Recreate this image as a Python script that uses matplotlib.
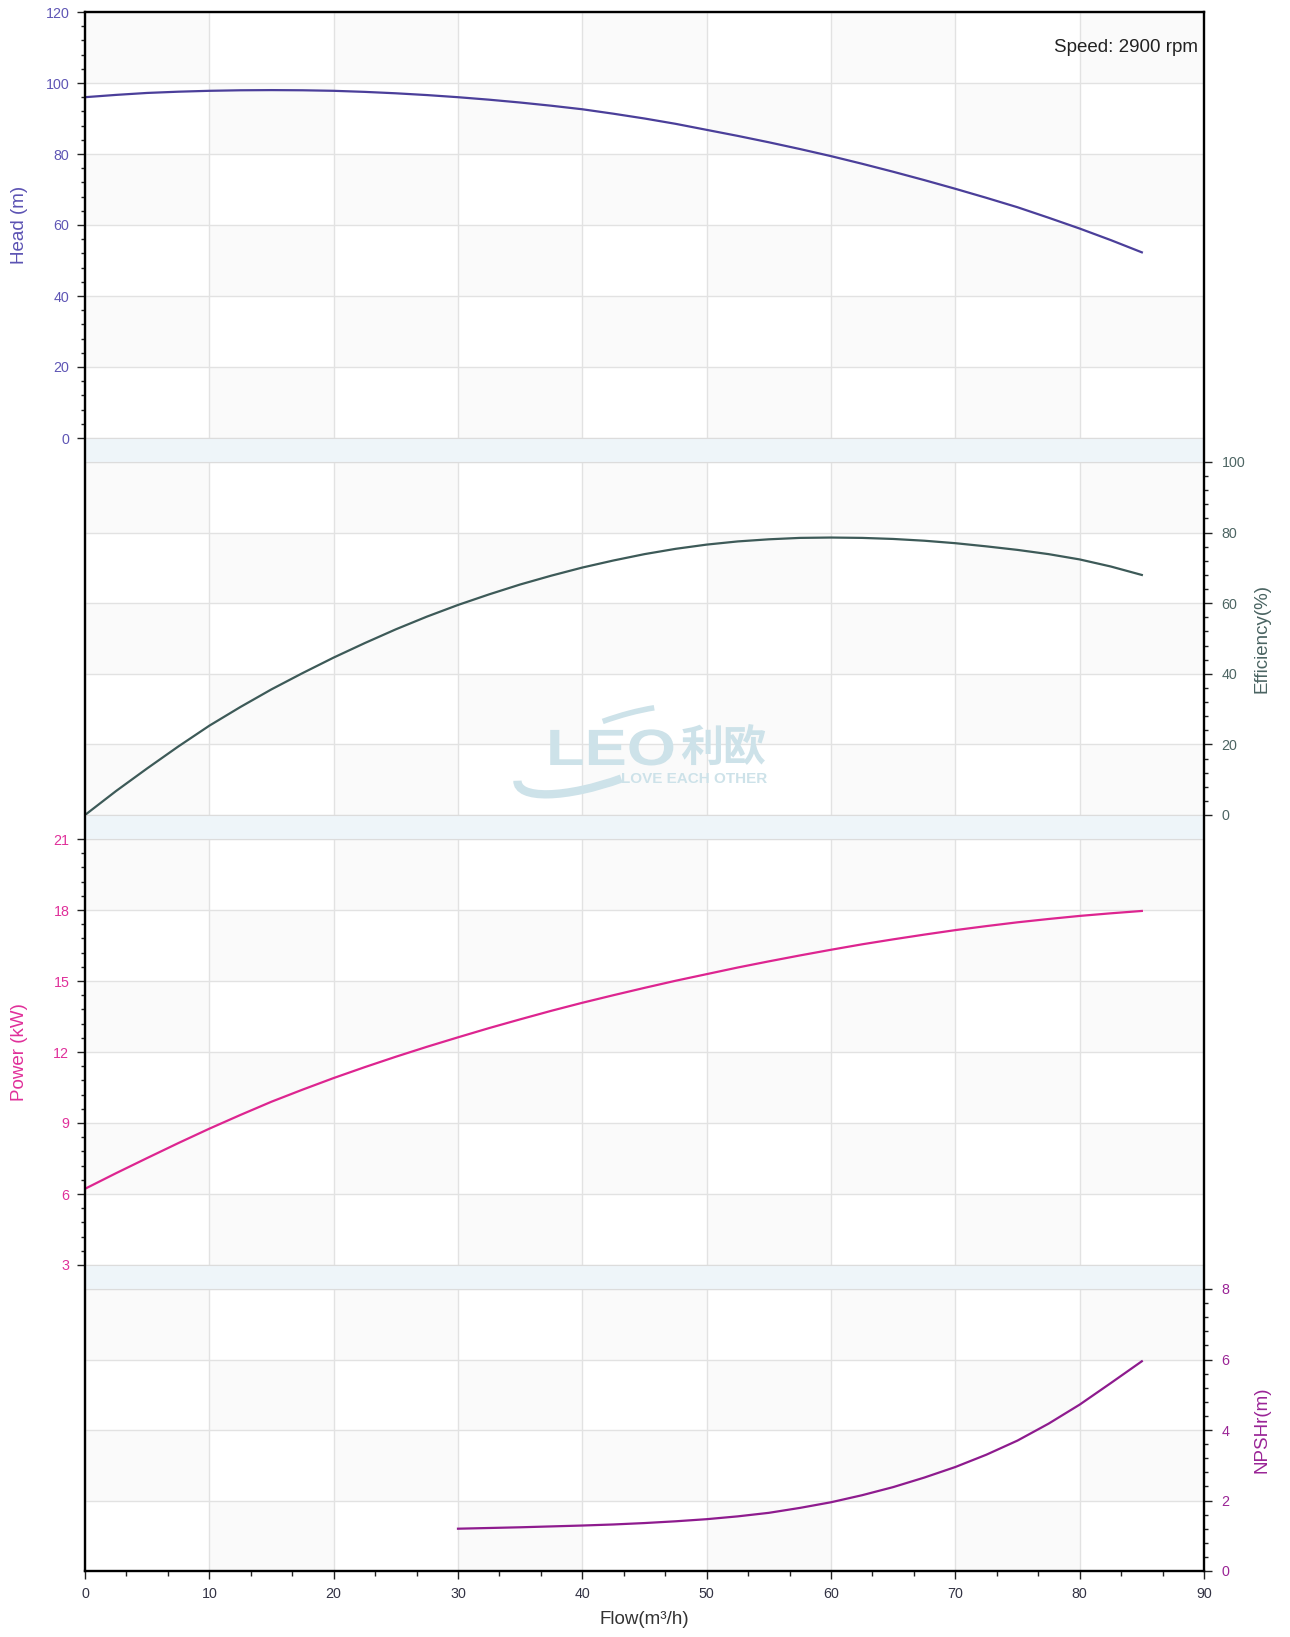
# -*- coding: utf-8 -*- python3
""" Pump performance curves: head, efficiency, power and NPSHr against flow """
import numpy as np
import matplotlib
matplotlib.use('Agg')
import matplotlib.pyplot as plt
from matplotlib.patches import Rectangle, Arc, PathPatch
from matplotlib.ticker import MultipleLocator
from matplotlib.textpath import TextPath
from matplotlib.font_manager import FontProperties
from matplotlib.transforms import Affine2D

plt.rcParams['font.family'] = ['Liberation Sans', 'DejaVu Sans']

W, H = 1290, 1637  # output size in pixels

# curve data
flow = [0, 2.5, 5, 7.5, 10, 12.5, 15, 17.5, 20, 22.5, 25, 27.5, 30, 32.5, 35, 37.5,
        40, 42.5, 45, 47.5, 50, 52.5, 55, 57.5, 60, 62.5, 65, 67.5, 70, 72.5, 75,
        77.5, 80, 82.5, 85]
head = [96.0, 96.65, 97.2, 97.55, 97.8, 97.95, 98.0, 97.95, 97.8, 97.5, 97.1, 96.6,
        96.0, 95.3, 94.5, 93.6, 92.6, 91.35, 90.0, 88.5, 86.8, 85.1, 83.3, 81.4,
        79.4, 77.25, 75.0, 72.65, 70.2, 67.65, 65.0, 62.05, 59.0, 55.75, 52.3]
efficiency = [0.0, 6.8, 13.2, 19.4, 25.3, 30.6, 35.6, 40.2, 44.6, 48.7, 52.6, 56.2,
              59.5, 62.5, 65.3, 67.8, 70.1, 72.1, 73.9, 75.4, 76.6, 77.5, 78.1, 78.5,
              78.6, 78.5, 78.2, 77.7, 77.0, 76.1, 75.1, 73.9, 72.4, 70.4, 68.0]
power = [6.22, 6.88, 7.52, 8.15, 8.76, 9.34, 9.9, 10.41, 10.9, 11.36, 11.8, 12.22,
         12.62, 13.01, 13.38, 13.74, 14.08, 14.40, 14.71, 15.01, 15.29, 15.57, 15.83,
         16.08, 16.32, 16.55, 16.76, 16.96, 17.15, 17.32, 17.48, 17.62, 17.75, 17.86,
         17.96]
npsh_flow = [30, 32.5, 35, 37.5, 40, 42.5, 45, 47.5, 50, 52.5, 55, 57.5, 60, 62.5,
             65, 67.5, 70, 72.5, 75, 77.5, 80, 82.5, 85]
npsh = [1.2, 1.22, 1.24, 1.265, 1.29, 1.32, 1.36, 1.41, 1.47, 1.55, 1.65, 1.79,
        1.95, 2.15, 2.38, 2.65, 2.95, 3.3, 3.7, 4.18, 4.72, 5.33, 5.95]

x_ticks = [0, 10, 20, 30, 40, 50, 60, 70, 80, 90]
speed_text = 'Speed: 2900 rpm'

# one dict per stacked panel
panels = [
    dict(top=12, bottom=438, ylim=(0, 120), step=20, side='left',
         tcol='#5f56b5', label='Head (m)', lcol='#5b52b3',
         x=flow, y=head, col='#4b3f9a'),
    dict(top=462, bottom=815, ylim=(0, 100), step=20, side='right',
         tcol='#4d6563', label='Efficiency(%)', lcol='#4a6462',
         x=flow, y=efficiency, col='#3d5a58'),
    dict(top=839, bottom=1265, ylim=(3, 21), step=3, side='left',
         tcol='#e0309a', label='Power (kW)', lcol='#e0309a',
         x=flow, y=power, col='#dd2590'),
    dict(top=1289, bottom=1571, ylim=(0, 8), step=2, side='right',
         tcol='#9a2496', label='NPSHr(m)', lcol='#9a2496',
         x=npsh_flow, y=npsh, col='#8e1b8e'),
]

LEFT, RIGHT = 85, 1204


def px_rect(top, bottom):
    return [LEFT / W, 1 - bottom / H, (RIGHT - LEFT) / W, (bottom - top) / H]


fig = plt.figure(figsize=(W / 100, H / 100), dpi=100)

# background carrying the separator bands
bg = fig.add_axes(px_rect(12, 1571), zorder=0)
bg.set_facecolor('#eef5f9')
bg.set_xticks([])
bg.set_yticks([])
for s in bg.spines.values():
    s.set_visible(False)

for k, p in enumerate(panels):
    ax = fig.add_axes(px_rect(p['top'], p['bottom']), zorder=1)
    lo, hi = p['ylim']
    ax.set_xlim(0, 90)
    ax.set_ylim(lo, hi)
    yt = np.arange(lo, hi + p['step'] / 2, p['step'])
    # checkerboard cells, top-left cell is grey
    rows = list(yt[::-1])
    for i in range(len(x_ticks) - 1):
        for j in range(len(rows) - 1):
            if (i + j) % 2 == 0:
                ax.add_patch(Rectangle((x_ticks[i], rows[j + 1]),
                                       x_ticks[i + 1] - x_ticks[i],
                                       rows[j] - rows[j + 1],
                                       facecolor='#fafafa', edgecolor='none', zorder=0.2))
    ax.set_xticks(x_ticks)
    ax.xaxis.set_minor_locator(MultipleLocator(10 / 3))
    ax.set_yticks(yt)
    ax.yaxis.set_minor_locator(MultipleLocator(p['step'] / 5))
    ax.set_axisbelow(True)
    ax.grid(True, which='major', color='#e2e2e2', lw=1)
    ax.plot(p['x'], p['y'], color=p['col'], lw=1.6, zorder=3)

    if p['side'] == 'left':
        ax.yaxis.tick_left()
        ax.tick_params(axis='y', which='major', pad=5.5)
    else:
        ax.yaxis.tick_right()
        ax.tick_params(axis='y', which='major', pad=6.8)
    ax.tick_params(axis='y', which='major', length=5.8, width=1, color='#222222',
                   labelsize=10.3, labelcolor=p['tcol'])
    ax.tick_params(axis='y', which='minor', length=2.9, width=1, color='#222222')

    if k == len(panels) - 1:
        ax.tick_params(axis='x', which='major', length=5.8, width=1, color='#222222',
                       labelsize=10.3, labelcolor='#333344', pad=6)
        ax.tick_params(axis='x', which='minor', length=3.4, width=1, color='#222222')
    else:
        ax.tick_params(axis='x', which='both', bottom=False, labelbottom=False)

    ax.spines['left'].set_visible(False)
    ax.spines['right'].set_visible(False)
    ax.spines['top'].set_color('#dcdcdc')
    ax.spines['bottom'].set_color('#dcdcdc')

    mid = (p['top'] + p['bottom']) / 2
    lx = 20 if p['side'] == 'left' else 1262
    fig.text(lx / W, 1 - mid / H, p['label'], rotation=90, ha='center', va='center',
             fontsize=13.5, color=p['lcol'])

# outer frame on top
frame = fig.add_axes(px_rect(12, 1571), zorder=5)
frame.set_facecolor('none')
frame.set_xticks([])
frame.set_yticks([])
for s in frame.spines.values():
    s.set_color('black')
    s.set_linewidth(1.7)

fig.text(644 / W, 1 - 1620 / H, 'Flow(m³/h)', ha='center', va='center',
         fontsize=13.5, color='#333333')
fig.text(1198 / W, 1 - 47 / H, speed_text, ha='right', va='center',
         fontsize=13.5, color='#222222', zorder=6)

# faint watermark logo (pixel units, y measured from the top)
wm = '#cde2e9'
inch = fig.dpi_scale_trans
leo = TextPath((0, 0), 'LEO', size=51,
               prop=FontProperties(family='Liberation Sans', weight='bold'))
leo_tr = Affine2D().scale(1.24 / 100, 1.0 / 100).translate(546 / 100, (H - 765) / 100)
fig.add_artist(PathPatch(leo, transform=leo_tr + inch, facecolor=wm,
                         edgecolor='none', zorder=6))
fig.text(680 / W, 1 - 762 / H, '利欧', family=['Noto Sans CJK SC', 'DejaVu Sans'],
         fontsize=31, fontweight='bold', color=wm, ha='left', va='baseline', zorder=6)
fig.text(621 / W, 1 - 783 / H, 'LOVE EACH OTHER', fontsize=11, fontweight='bold',
         color=wm, ha='left', va='baseline', zorder=6)
for t1, t2, lw in [(178, 268, 6), (25, 88, 4)]:
    arc = Arc((612 / 100, (H - 750) / 100), 2.0, 0.6, angle=20, theta1=t1, theta2=t2,
              lw=lw, color=wm, transform=inch, zorder=6)
    fig.add_artist(arc)

fig.savefig('out.png', dpi=100)
